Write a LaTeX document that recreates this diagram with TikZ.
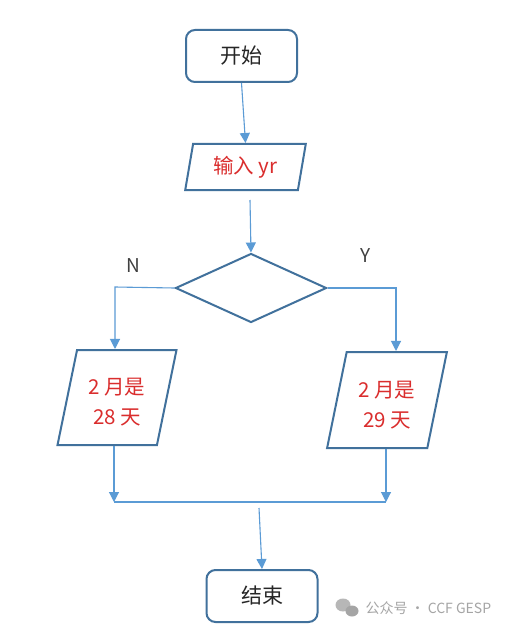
\documentclass[tikz,border=0pt]{standalone}
\usepackage{fontspec}
\newfontfamily\cjk{Noto Sans CJK SC}
\usetikzlibrary{shapes.geometric,arrows.meta,calc}
\definecolor{nodeblue}{RGB}{65,113,156}
\definecolor{linkblue}{RGB}{91,155,213}
\definecolor{txtred}{RGB}{218,45,45}
\definecolor{wmgray}{RGB}{165,165,165}
\begin{document}
\begin{tikzpicture}[x=1pt,y=-1pt,
 term/.style={draw=nodeblue,line width=2pt,rounded corners=9pt,minimum width=111pt,minimum height=52pt,font=\cjk\fontsize{21}{24}\selectfont,text=black!85,inner sep=0pt},
 io/.style={draw=nodeblue,line width=2pt,trapezium,trapezium stretches=true,inner sep=0pt,font=\cjk\fontsize{20.5}{30}\selectfont,text=txtred,align=center},
 dec/.style={draw=nodeblue,line width=2pt,diamond,minimum width=151pt,minimum height=69pt,inner sep=0pt},
 link/.style={draw=linkblue,line width=1.1pt},
 arr/.style={link,-{Triangle[width=10pt,length=10pt]}},
 lbl/.style={font=\cjk\fontsize{19}{21}\selectfont,text=black!75},
 wm/.style={font=\cjk\fontsize{14}{16}\selectfont,text=wmgray}
]
\fill[white] (0,0) rectangle (506,631);
\useasboundingbox (0,0) rectangle (506,631);

\node[term] (S) at (241.5,56) {开始};
\node[io,minimum width=121pt,minimum height=46pt,trapezium left angle=77.7,trapezium right angle=102.3] (I) at (245.5,167) {输入 yr};
\node[dec] (D) at (251,288) {};
\node[io,minimum width=120pt,minimum height=95pt,trapezium left angle=76.4,trapezium right angle=103.6] (L) at (117,397.5) {\rule{0pt}{26pt}2 月是\\28 天};
\node[io,minimum width=120pt,minimum height=96pt,trapezium left angle=76.5,trapezium right angle=103.5] (R) at (387,400) {\rule{0pt}{26pt}2 月是\\29 天};
\node[term] (E) at (262,596) {结束};
\node[lbl] (N) at (133,266) {N};
\node[lbl] (Y) at (366,256) {Y};

\draw[arr] (S.south) -- (I.center |- I.north);
\coordinate (c1) at (250,200);
\draw[arr] (c1) -- (D.north);
\coordinate (nL) at (115,287);
\draw[arr] (D.west) -- (nL) -- (nL |- L.north);
\coordinate (nR) at (396,288);
\draw[arr] (D.east) -- (nR) -- (nR |- R.north);
\coordinate (mL) at (114,502);
\coordinate (mR) at (386,502);
\draw[arr] (mL |- L.south) -- (mL);
\draw[arr] (mR |- R.south) -- (mR);
\draw[link] (mL) -- (mR);
\coordinate (c2) at (259,508);
\draw[arr] (c2) -- (E.north);

% watermark
\fill[wmgray!80] (343,605) ellipse (7.5pt and 6.5pt);
\fill[wmgray] (352,611) ellipse (6.5pt and 5.5pt);
\node[wm,anchor=west] (W) at (362,608) {公众号 · CCF GESP};
\end{tikzpicture}
\end{document}
